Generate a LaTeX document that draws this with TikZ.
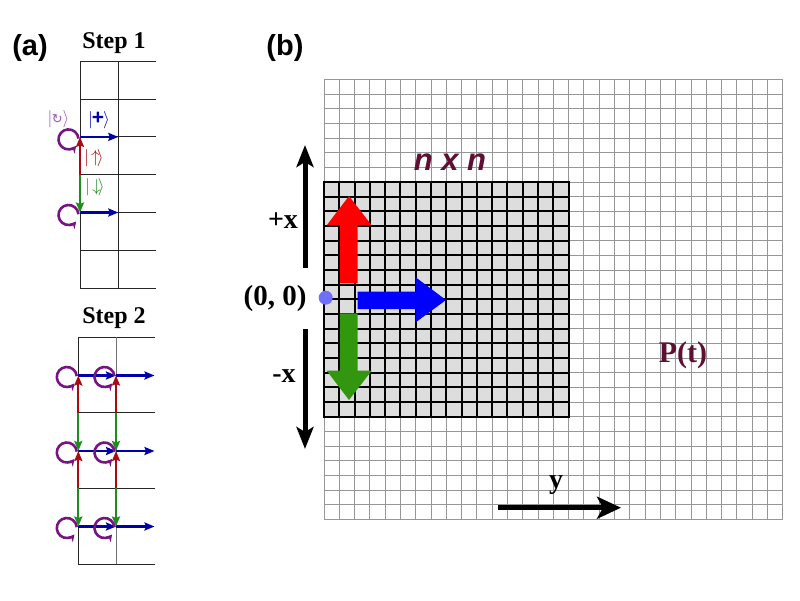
\documentclass[tikz,border=0pt]{standalone}
\usepackage{fontspec}
\setmainfont{Liberation Serif}
\newfontfamily\lsans{Liberation Sans}
\newfontfamily\dvs{DejaVu Sans}
\usetikzlibrary{arrows.meta}
\definecolor{maroon}{RGB}{95,15,50}
\definecolor{bigred}{RGB}{255,0,0}
\definecolor{biggreen}{RGB}{50,150,15}
\definecolor{bigblue}{RGB}{0,0,255}
\definecolor{dotblue}{RGB}{110,110,255}
\definecolor{kblue}{RGB}{0,0,170}
\definecolor{kred}{RGB}{170,10,20}
\definecolor{kgreen}{RGB}{30,140,30}
\definecolor{kpurple}{RGB}{120,20,130}
\definecolor{lpurple}{RGB}{160,80,180}
\definecolor{cellgray}{RGB}{221,221,221}
\definecolor{linegray}{RGB}{150,150,150}
\tikzset{
  gridA/.style={black!85, line width=1pt},
  sarrow/.style={line width=2.1pt, -{Stealth[length=10pt,width=8pt,inset=1.5pt]}},
  spin/.style={kpurple, line width=2.6pt, -{Stealth[length=7pt,width=7.5pt]}},
  ket/.style={inner sep=0pt, font=\fontsize{18}{18}\selectfont},
  panel/.style={inner sep=0pt, font=\lsans\bfseries\fontsize{29}{29}\selectfont},
  steplabel/.style={inner sep=0pt, font=\bfseries\fontsize{24}{24}\selectfont},
  axlabel/.style={inner sep=0pt, font=\bfseries\fontsize{28}{28}\selectfont},
  axis/.style={line width=5pt, -{Stealth[length=22pt,width=17pt,inset=5pt]}},
  finegrid/.style={linegray, line width=0.9pt},
  boldgrid/.style={black, line width=2pt}
}
\begin{document}
\begin{tikzpicture}[x=1pt,y=-1pt]
\useasboundingbox (0,0) rectangle (800,600);

% ---------------- panel (a) ----------------
\node[panel] (la) at (30,48) {(a)};
\node[steplabel] (s1) at (114,43) {Step 1};
\node[steplabel] (s2) at (114,318) {Step 2};

% Step 1 grid
\foreach \yy in {61.3,99.1,136.9,174.7,212.5,250.3,288.1}
  \draw[gridA] (80,\yy) -- (156,\yy);
\draw[gridA] (80,61.3) -- (80,288.1);
\draw[gridA] (118.3,61.3) -- (118.3,288.1);

\coordinate (a1) at (80,136.9);
\coordinate (am) at (80,174.7);
\coordinate (b1) at (80,212.5);
\coordinate (a1r) at (118.3,136.9);
\coordinate (b1r) at (118.3,212.5);

\draw[sarrow, kblue] (a1) -- (a1r);
\draw[sarrow, kblue] (b1) -- (b1r);
\draw[sarrow, kred] (am) -- (a1);
\draw[sarrow, kgreen] (am) -- (b1);
\foreach \p in {a1,b1}
  \draw[spin] (\p) ++(-11.5,2.5) ++(355:10) arc[start angle=355, end angle=40, radius=10];

\node[ket, lpurple] (kc) at (58.5,119) {$|$\kern-0.5pt{\dvs\fontsize{13}{13}\selectfont ↻}$\rangle$};
\node[ket, kblue] (kp) at (99,120) {$|$\kern-1pt{\lsans\bfseries\fontsize{21}{21}\selectfont +}\kern-1pt$\rangle$};
\node[ket, kred] (ku) at (94,158) {$|\!\uparrow\!\rangle$};
\node[ket, kgreen] (kd) at (95,187) {$|\!\downarrow\!\rangle$};

% Step 2 grid
\foreach \yy in {337.3,412.7,488.3,564}
  \draw[gridA] (78.3,\yy) -- (155,\yy);
\draw[gridA] (78.3,337.3) -- (78.3,564);
\draw[gridA, black!55] (116,337.3) -- (116,564);

\foreach \r/\yy in {1/375.5,2/451,3/526.5}{
  \coordinate (p\r l) at (78.3,\yy);
  \coordinate (p\r m) at (116,\yy);
  \coordinate (p\r r) at (154.5,\yy);
}
\coordinate (h1l) at (78.3,412.7);
\coordinate (h1m) at (116,412.7);
\coordinate (h2l) at (78.3,488.3);
\coordinate (h2m) at (116,488.3);

\foreach \r in {1,2,3}{
  \draw[sarrow, kblue] (p\r l) -- (p\r m);
  \draw[sarrow, kblue] (p\r m) -- (p\r r);
}
\foreach \c in {l,m}{
  \draw[sarrow, kred] (h1\c) -- (p1\c);
  \draw[sarrow, kred] (h2\c) -- (p2\c);
  \draw[sarrow, kgreen] (h1\c) -- (p2\c);
  \draw[sarrow, kgreen] (h2\c) -- (p3\c);
}
\foreach \r in {1,2,3}
  \foreach \c in {l,m}
    \draw[spin] (p\r\c) ++(-11.5,1.5) ++(355:10) arc[start angle=355, end angle=40, radius=10];

% ---------------- panel (b) ----------------
\node[panel] (lb) at (285,48) {(b)};

% fine grid 30 x 30
\foreach \i in {0,...,30}{
  \draw[finegrid] ({324+\i*15.29},79.3) -- ({324+\i*15.29},519.3);
  \draw[finegrid] (324,{79.3+\i*14.667}) -- (782.7,{79.3+\i*14.667});
}
% n x n block
\fill[cellgray] (324,182) rectangle (568.6,416.7);
\foreach \i in {1,...,15}{
  \draw[boldgrid] ({324+\i*15.29},182) -- ({324+\i*15.29},416.7);
  \draw[boldgrid] (324,{182+\i*14.667}) -- (568.6,{182+\i*14.667});
}
\draw[boldgrid] (324,182) rectangle (568.6,416.7);

\node[inner sep=0pt, text=maroon, font=\lsans\bfseries\itshape\fontsize{31}{31}\selectfont] (nn) at (450,162) {n x n};
\node[inner sep=0pt, text=maroon, font=\bfseries\fontsize{30}{30}\selectfont] (pt) at (683,355) {P(t)};

% big arrows
\fill[bigred] (340,283.3) -- (340,225.3) -- (326.7,225.3) -- (349,196) -- (371.7,225.3) -- (357.7,225.3) -- (357.7,283.3) -- cycle;
\fill[biggreen] (340,313.3) -- (340,370.7) -- (326.7,370.7) -- (349,400) -- (371.7,370.7) -- (357.7,370.7) -- (357.7,313.3) -- cycle;
\fill[bigblue] (357.7,291.7) -- (415.7,291.7) -- (415.7,277.3) -- (446,300) -- (415.7,322.3) -- (415.7,309) -- (357.7,309) -- cycle;

\fill[dotblue] (325.7,297.7) circle[radius=7];
\node[inner sep=0pt, font=\bfseries\fontsize{29}{29}\selectfont] (orig) at (275,299) {(0, 0)};

% axes
\coordinate (xu0) at (305,268);
\coordinate (xu1) at (305,145);
\coordinate (xd0) at (305,329);
\coordinate (xd1) at (305,449);
\coordinate (y0) at (498,507.7);
\coordinate (y1) at (621,507.7);
\draw[axis] (xu0) -- (xu1);
\draw[axis] (xd0) -- (xd1);
\draw[axis, -{Stealth[length=24pt,width=22pt,inset=6pt]}] (y0) -- (y1);
\node[axlabel] (px) at (283,221) {+x};
\node[axlabel] (mx) at (284,376) {-x};
\node[axlabel] (ly) at (556,485) {y};
\end{tikzpicture}
\end{document}
